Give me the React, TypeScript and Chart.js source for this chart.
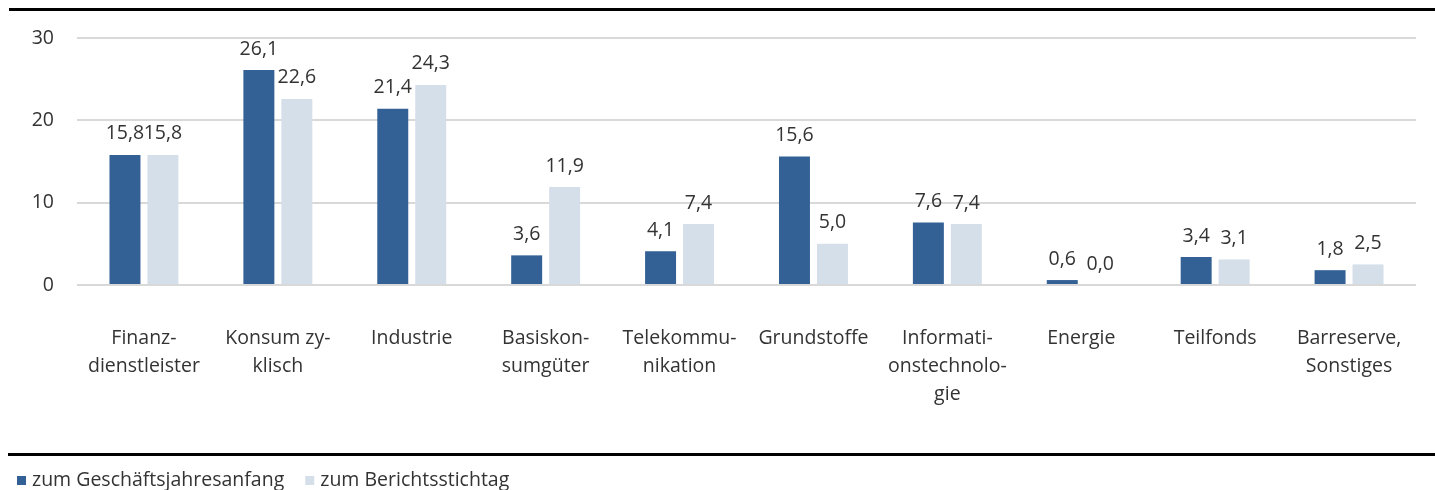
import React, { useEffect, useRef } from "react";
import { Chart, registerables } from "chart.js";

Chart.register(...registerables);

const categories: string[][] = [
  ["Finanz-", "dienstleister"],
  ["Konsum zy-", "klisch"],
  ["Industrie"],
  ["Basiskon-", "sumgüter"],
  ["Telekommu-", "nikation"],
  ["Grundstoffe"],
  ["Informati-", "onstechnolo-", "gie"],
  ["Energie"],
  ["Teilfonds"],
  ["Barreserve,", "Sonstiges"],
];
const seriesNames = ["zum Geschäftsjahresanfang", "zum Berichtsstichtag"];
const startValues = [15.8, 26.1, 21.4, 3.6, 4.1, 15.6, 7.6, 0.6, 3.4, 1.8];
const reportValues = [15.8, 22.6, 24.3, 11.9, 7.4, 5.0, 7.4, 0.0, 3.1, 2.5];
const yTicks = [0, 10, 20, 30];

const DARK = "#336195";
const LIGHT = "#d5dfea";
const TEXT = "#333333";
const FONT = "'Open Sans', Lato, sans-serif";
const FS = 19.5;

const W = 1435;
const H = 490;

const decoPlugin = {
  id: "deco",
  afterDatasetsDraw(chart: any) {
    const ctx = chart.ctx;
    ctx.save();
    ctx.fillStyle = TEXT;
    ctx.font = `${FS}px ${FONT}`;
    ctx.textAlign = "center";
    ctx.textBaseline = "middle";
    chart.data.datasets.forEach((ds: any, i: number) => {
      const meta = chart.getDatasetMeta(i);
      meta.data.forEach((bar: any, j: number) => {
        const v = ds.data[j] as number;
        ctx.fillText(v.toFixed(1).replace(".", ","), bar.x, bar.y - 21);
      });
    });
    ctx.restore();
  },
  afterDraw(chart: any) {
    const ctx = chart.ctx;
    ctx.save();
    ctx.fillStyle = "#000";
    ctx.fillRect(9, 8, W - 9, 3);
    ctx.fillRect(8, 453, W - 8, 3);
    // legend
    ctx.font = `${FS}px ${FONT}`;
    ctx.textBaseline = "middle";
    ctx.textAlign = "left";
    let x = 17;
    const y = 480;
    const colors = [DARK, LIGHT];
    seriesNames.forEach((name, i) => {
      ctx.fillStyle = colors[i];
      ctx.fillRect(x, y - 4, 9, 9);
      ctx.fillStyle = TEXT;
      ctx.fillText(name, x + 15, y);
      x = x + 15 + ctx.measureText(name).width + 21;
    });
    ctx.restore();
  },
};

export default function App() {
  const ref = useRef<HTMLCanvasElement>(null);
  useEffect(() => {
    if (!ref.current) return;
    const chart = new Chart(ref.current, {
      type: "bar",
      data: {
        labels: categories,
        datasets: [
          {
            label: seriesNames[0],
            data: startValues,
            backgroundColor: DARK,
            barPercentage: 0.816,
            categoryPercentage: 0.567,
          },
          {
            label: seriesNames[1],
            data: reportValues,
            backgroundColor: LIGHT,
            barPercentage: 0.816,
            categoryPercentage: 0.567,
          },
        ],
      },
      options: {
        responsive: false,
        animation: false,
        devicePixelRatio: 1,
        layout: { padding: { top: 38, right: 19, left: 0, bottom: 0 } },
        plugins: {
          legend: { display: false },
          tooltip: { enabled: false },
        },
        scales: {
          x: {
            grid: { display: false, drawTicks: false, tickLength: 0 },
            border: { display: false },
            ticks: {
              autoSkip: false,
              maxRotation: 0,
              minRotation: 0,
              padding: 39,
              color: TEXT,
              font: { family: FONT, size: FS, lineHeight: 28 / FS },
            },
            afterFit(scale: any) {
              scale.height = 205;
              scale.paddingLeft = 0;
              scale.paddingRight = 0;
            },
          },
          y: {
            min: 0,
            max: 30,
            afterBuildTicks(scale: any) {
              scale.ticks = yTicks.map((v) => ({ value: v }));
            },
            grid: { color: "#d9d9d9", lineWidth: 2, drawTicks: false, tickLength: 0 },
            border: { display: false },
            ticks: {
              padding: 23,
              color: TEXT,
              font: { family: FONT, size: FS },
            },
            afterFit(scale: any) {
              scale.width = 77;
              scale.paddingTop = 0;
              scale.paddingBottom = 0;
            },
          },
        },
      },
      plugins: [decoPlugin],
    });
    return () => chart.destroy();
  }, []);
  return (
    <div style={{ position: "absolute", left: 0, top: 0, width: W, height: H, background: "#fff" }}>
      <canvas ref={ref} width={W} height={H} style={{ display: "block" }} />
    </div>
  );
}
